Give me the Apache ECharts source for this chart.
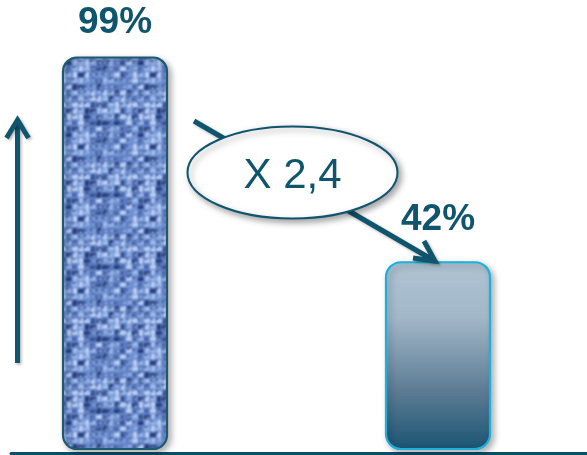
<!DOCTYPE html>
<html>
<head>
<meta charset="utf-8">
<script src="https://cdn.jsdelivr.net/npm/echarts@6/dist/echarts.min.js"></script>
<style>
html,body{margin:0;padding:0;background:#fff;}
#chart{width:587px;height:455px;}
</style>
</head>
<body>
<div id="chart"></div>
<script>
// ---- data ----
const categories = ['Bar 1', 'Bar 2'];
const values = [99, 42];
const ratioLabel = 'X 2,4';

// ---- styles ----
const TEAL = '#10556e';
const FONT = '"Liberation Sans", Arial, sans-serif';
const BAR_WIDTH = 104;
const BASE_VALUE = -10;
const LABEL_OFFSETS = [35, 42];

function hash(x, y) {
  return Math.abs(Math.sin(x * 12.9898 + y * 78.233) * 43758.5453) % 1;
}
function makeTexture() {
  const S = 72;
  const raw = document.createElement('canvas');
  raw.width = S; raw.height = S;
  const g = raw.getContext('2d');
  g.fillStyle = '#6786c6';
  g.fillRect(0, 0, S, S);
  const pal = ['#b9cff6', '#98b5ea', '#7899d8', '#5a7abf', '#3f5d9f', '#263f7c'];
  const C = 6;
  for (let cy = 0; cy < S / C; cy++) {
    for (let cx = 0; cx < S / C; cx++) {
      const h = hash(cx, cy);
      const over = (cx + cy) % 2;
      const idx = Math.min(5, Math.floor(h * 6));
      g.fillStyle = pal[idx];
      if (over) {
        g.fillRect(cx * C, cy * C + 1, C, C - 2);
      } else {
        g.fillRect(cx * C + 1, cy * C, C - 2, C);
      }
      const h2 = hash(cx + 31, cy + 17);
      g.fillStyle = h2 > 0.5 ? 'rgba(210,226,255,0.65)' : 'rgba(22,40,100,0.65)';
      g.fillRect(cx * C + Math.floor(h2 * 4), cy * C + Math.floor(h * 4), 2, 2);
    }
  }
  const out = document.createElement('canvas');
  out.width = S; out.height = S;
  const o = out.getContext('2d');
  o.fillStyle = '#6786c6';
  o.fillRect(0, 0, S, S);
  o.filter = 'blur(0.8px)';
  for (let dx = -1; dx <= 1; dx++) for (let dy = -1; dy <= 1; dy++) o.drawImage(raw, dx * S, dy * S);
  o.filter = 'none';
  return out;
}

const fills = [
  { image: makeTexture(), repeat: 'repeat' },
  new echarts.graphic.LinearGradient(0, 0, 0, 1, [
    { offset: 0, color: '#afc3d3' },
    { offset: 0.3, color: '#a2b7c8' },
    { offset: 0.7, color: '#5a7a92' },
    { offset: 1, color: '#1a5473' }
  ])
];
const strokes = ['#1c5a6f', '#1bb1dc'];
const radii = [14, 15];

const chart = echarts.init(document.getElementById('chart'), null, { renderer: 'canvas' });

const option = {
  animation: false,
  backgroundColor: '#fff',
  grid: [
    { left: 115, right: 149, top: 18, bottom: 1.5 },
    { left: 11, right: 0, top: 400, bottom: 1.5 }
  ],
  xAxis: [
    { type: 'category', gridIndex: 0, data: categories, boundaryGap: false,
      axisLine: { show: false }, axisTick: { show: false }, axisLabel: { show: false } },
    { type: 'category', gridIndex: 1, data: [''],
      axisLine: { show: true, lineStyle: { color: '#0c5068', width: 3 } },
      axisTick: { show: false }, axisLabel: { show: false } }
  ],
  yAxis: [
    { type: 'value', gridIndex: 0, min: -11.25, max: 110, show: false, splitLine: { show: false } },
    { type: 'value', gridIndex: 1, show: false, splitLine: { show: false } }
  ],
  series: [{
    type: 'custom',
    xAxisIndex: 0, yAxisIndex: 0,
    data: categories.map((c, i) => [c, values[i]]),
    encode: { x: 0, y: 1 },
    renderItem: function (params, api) {
      const i = params.dataIndex;
      const top = api.coord([api.value(0), api.value(1)]);
      const base = api.coord([api.value(0), BASE_VALUE]);
      return {
        type: 'group',
        children: [
          {
            type: 'rect',
            shape: { x: top[0] - BAR_WIDTH / 2, y: top[1], width: BAR_WIDTH, height: base[1] - top[1], r: radii[i] },
            style: {
              fill: fills[i], stroke: strokes[i], lineWidth: 2.2,
              shadowBlur: 6, shadowColor: 'rgba(0,0,0,0.3)', shadowOffsetX: 3, shadowOffsetY: 3
            }
          },
          {
            type: 'text',
            style: {
              text: values[i] + '%', x: top[0], y: top[1] - LABEL_OFFSETS[i],
              align: 'center', verticalAlign: 'middle',
              fontSize: 37, fontWeight: 'bold', fontFamily: FONT, fill: TEAL
            }
          }
        ]
      };
    }
  }],
  graphic: [
    { type: 'line', z: 10, shape: { x1: 17.5, y1: 363, x2: 17.5, y2: 120 },
      style: { stroke: TEAL, lineWidth: 5, shadowBlur: 3, shadowColor: 'rgba(0,0,0,0.3)', shadowOffsetX: 1.5, shadowOffsetY: 1.5 } },
    { type: 'polyline', z: 10, shape: { points: [[6.5, 138], [17.5, 120], [28.5, 138]] },
      style: { stroke: TEAL, lineWidth: 5, fill: null, lineJoin: 'miter', shadowBlur: 3, shadowColor: 'rgba(0,0,0,0.3)', shadowOffsetX: 1.5, shadowOffsetY: 1.5 } },
    { type: 'line', z: 10, shape: { x1: 194, y1: 121, x2: 433, y2: 260 },
      style: { stroke: TEAL, lineWidth: 5, shadowBlur: 3, shadowColor: 'rgba(0,0,0,0.3)', shadowOffsetX: 1.5, shadowOffsetY: 1.5 } },
    { type: 'polyline', z: 10, shape: { points: [[413, 258], [435, 261], [424, 241]] },
      style: { stroke: TEAL, lineWidth: 5, fill: null, lineJoin: 'miter', shadowBlur: 3, shadowColor: 'rgba(0,0,0,0.3)', shadowOffsetX: 1.5, shadowOffsetY: 1.5 } },
    { type: 'ellipse', z: 20, shape: { cx: 292.5, cy: 172.5, rx: 105, ry: 46 },
      style: { fill: '#fff', stroke: TEAL, lineWidth: 2, shadowBlur: 6, shadowColor: 'rgba(0,0,0,0.35)', shadowOffsetX: 3, shadowOffsetY: 3 } },
    { type: 'text', z: 21, style: { text: ratioLabel, x: 292.5, y: 176, align: 'center', verticalAlign: 'middle',
      fontSize: 42, fontFamily: FONT, fill: TEAL } }
  ]
};
chart.setOption(option);
</script>
</body>
</html>
